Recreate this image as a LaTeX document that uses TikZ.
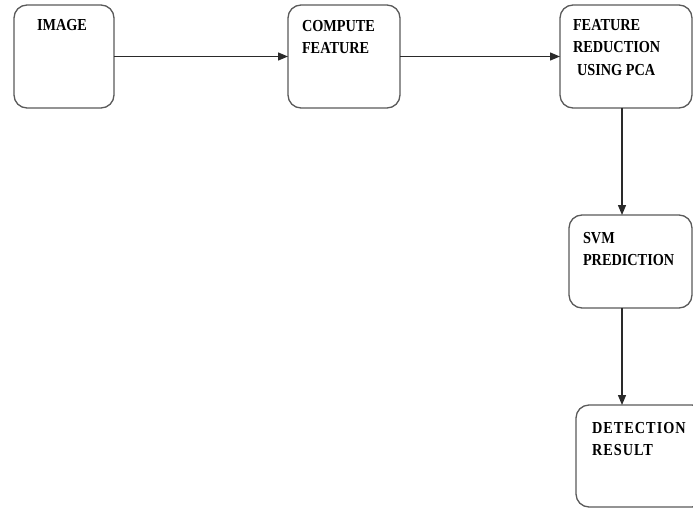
\documentclass[tikz,border=0pt]{standalone}
\usepackage{fontspec}
\setmainfont{Liberation Serif}[FakeStretch=0.85]
\usetikzlibrary{arrows.meta}
\definecolor{boxline}{HTML}{5A5A5A}
\definecolor{arrline}{HTML}{2A2A2A}
\tikzset{
  stagebox/.style={draw=boxline, line width=1.3pt, rounded corners=13pt,
    inner sep=0pt, outer sep=0pt, fill=none},
  stagetext/.style={anchor=north west, inner sep=0pt, outer sep=0pt, align=left,
    font=\bfseries\fontsize{16.8}{22.8}\selectfont, text=black},
  flow/.style={draw=arrline, line width=1.3pt, -{Triangle[length=10pt,width=8pt]}}
}
\begin{document}
\begin{tikzpicture}[x=1pt,y=-1pt]
\useasboundingbox (0,0) rectangle (693,508);
\clip (0,0) rectangle (693,508);
\fill[white] (0,0) rectangle (693,508);
% boxes
\node[stagebox, minimum width=100pt, minimum height=103pt] (img) at (64,56.5) {};
\node[stagebox, minimum width=112pt, minimum height=103pt] (cmp) at (344,56.5) {};
\node[stagebox, minimum width=132pt, minimum height=103pt] (fr) at (626,56.5) {};
\node[stagebox, minimum width=123pt, minimum height=93pt] (svm) at (630.5,261.5) {};
\node[stagebox, minimum width=129pt, minimum height=102pt] (det) at (640.5,456) {};
% texts
\node[stagetext] (imgt) at (37,19) {IMAGE};
\node[stagetext] (cmpt) at (302,20) {COMPUTE\\FEATURE};
\node[stagetext] (frt) at (573,19) {FEATURE\\REDUCTION\\\hspace*{4pt}USING PCA};
\node[stagetext] (svmt) at (583,232) {SVM\\PREDICTION};
\node[stagetext, font=\bfseries\fontsize{16.8}{22.8}\selectfont\addfontfeature{LetterSpace=6}] (dett) at (592,422) {DETECTION\\RESULT};
% connectors
\draw[flow] (img.east) -- (cmp.west);
\draw[flow] (cmp.east) -- (fr.west);
\draw[flow] ([xshift=-4pt]fr.south) -- ([xshift=-4pt]fr.south |- svm.north);
\draw[flow] ([xshift=-8.5pt]svm.south) -- ([xshift=-8.5pt]svm.south |- det.north);
\end{tikzpicture}
\end{document}
